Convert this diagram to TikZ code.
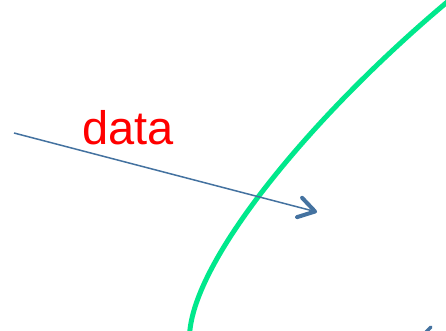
\documentclass[tikz,border=0pt]{standalone}
\usepackage{fontspec}
\setmainfont{Liberation Sans}
\usetikzlibrary{arrows.meta}
\definecolor{curvegreen}{RGB}{0,232,140}
\definecolor{arrowblue}{RGB}{68,114,160}
\tikzset{
  curve/.style={draw=curvegreen, line width=5pt},
  flow/.style={draw=arrowblue, line width=1.5pt, -{Straight Barb[length=16pt,width=20pt,line width=4pt,round]}},
  lbl/.style={text=red, font=\fontsize{47}{50}\selectfont, inner sep=0pt, anchor=base west}
}
\begin{document}
\begin{tikzpicture}[x=1pt,y=-1pt]
\useasboundingbox (0,0) rectangle (446,331);
\clip (0,0) rectangle (446,331);
\fill[white] (0,0) rectangle (446,331);
\coordinate (cbot) at (189.5,336);
\coordinate (ctop) at (452,-2);
\draw[curve] (cbot) .. controls (192,260) and (315,112) .. (ctop);
\coordinate (src) at (14,133);
\coordinate (dst) at (317,212);
\draw[flow] (src) -- (dst);
\node[lbl] (data) at (82,144) {data};
\draw[arrowblue, line width=3.5pt, line cap=round] (426,332) -- (431,327);
\end{tikzpicture}
\end{document}
